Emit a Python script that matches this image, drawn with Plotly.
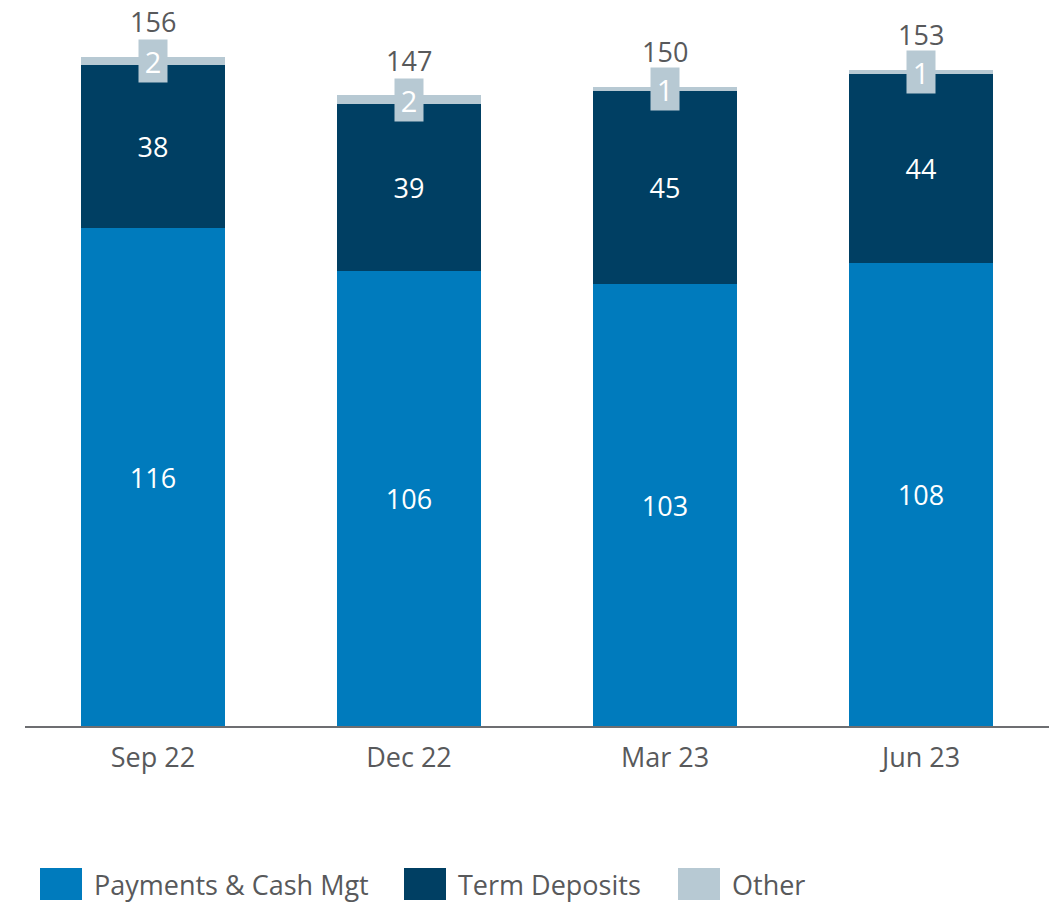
import plotly.graph_objects as go

categories = ["Sep 22", "Dec 22", "Mar 23", "Jun 23"]
payments = [116, 106, 103, 108]
term_deposits = [38, 39, 45, 44]
other = [2, 2, 1, 1]
totals = [156, 147, 150, 153]
series_names = ["Payments & Cash Mgt", "Term Deposits", "Other"]

C_PAY = "#007BBD"
C_TERM = "#003F63"
C_OTHER = "#B7C9D3"
TXT = "#58595B"
FONT = "Open Sans"

fig = go.Figure()
fig.add_trace(go.Bar(
    x=categories, y=payments, name=series_names[0], marker_color=C_PAY,
    marker_line_width=0,
    text=payments, texttemplate="%{text}", textposition="inside",
    insidetextanchor="middle", textfont=dict(color="white", size=27, family=FONT),
))
fig.add_trace(go.Bar(
    x=categories, y=term_deposits, name=series_names[1], marker_color=C_TERM,
    marker_line_width=0,
    text=term_deposits, texttemplate="%{text}", textposition="inside",
    insidetextanchor="middle", textfont=dict(color="white", size=27, family=FONT),
))
fig.add_trace(go.Bar(
    x=categories, y=other, name=series_names[2], marker_color=C_OTHER,
    marker_line_width=0, textposition="none",
))

annotations = []
for c, p, t, o, tot in zip(categories, payments, term_deposits, other, totals):
    top = p + t + o
    annotations.append(dict(
        x=c, y=p + t + o / 2, xref="x", yref="y", text=str(o), showarrow=False,
        bgcolor=C_OTHER, width=26, height=40,
        font=dict(color="white", size=29, family=FONT),
    ))
    annotations.append(dict(
        x=c, y=top, xref="x", yref="y", text=str(tot), showarrow=False,
        yanchor="middle", yshift=35,
        font=dict(color=TXT, size=27, family=FONT),
    ))

# custom legend (large squares)
shapes = []
leg_colors = [C_PAY, C_TERM, C_OTHER]
sq_x = [40, 404, 678]
W, H = 1049, 906
ml, mr, mt, mb = 25, 0, 20, 180
pw, ph = W - ml - mr, H - mt - mb
def px_to_paper_x(px):
    return (px - ml) / pw
def px_to_paper_y(py):
    return (H - mb - py) / ph
for name, col, x0 in zip(series_names, leg_colors, sq_x):
    shapes.append(dict(
        type="rect", xref="paper", yref="paper",
        x0=px_to_paper_x(x0), x1=px_to_paper_x(x0 + 42),
        y0=px_to_paper_y(900), y1=px_to_paper_y(868),
        fillcolor=col, line_width=0,
    ))
    annotations.append(dict(
        x=px_to_paper_x(x0 + 52), y=px_to_paper_y(884), xref="paper", yref="paper",
        text=name, showarrow=False, xanchor="left", yanchor="middle",
        font=dict(color=TXT, size=27, family=FONT),
    ))

fig.update_layout(
    barmode="stack", bargap=0.44,
    width=W, height=H,
    margin=dict(l=ml, r=mr, t=mt, b=mb, pad=0),
    plot_bgcolor="white", paper_bgcolor="white",
    showlegend=False,
    font=dict(family=FONT, color=TXT),
    annotations=annotations, shapes=shapes,
    uniformtext=dict(mode=False),
)
fig.update_xaxes(
    showline=True, linecolor="#6D6E71", linewidth=2, ticks="",
    tickfont=dict(size=27, color=TXT, family=FONT), ticklabelstandoff=7,
    showgrid=False,
)
fig.update_yaxes(
    range=[0, 164.6], visible=False, showgrid=False, zeroline=False,
)

fig.write_html(
    "out.html",
    config={"displayModeBar": False},
    post_script="document.body.style.margin='0';document.body.style.padding='0';document.body.style.overflow='hidden';",
)
